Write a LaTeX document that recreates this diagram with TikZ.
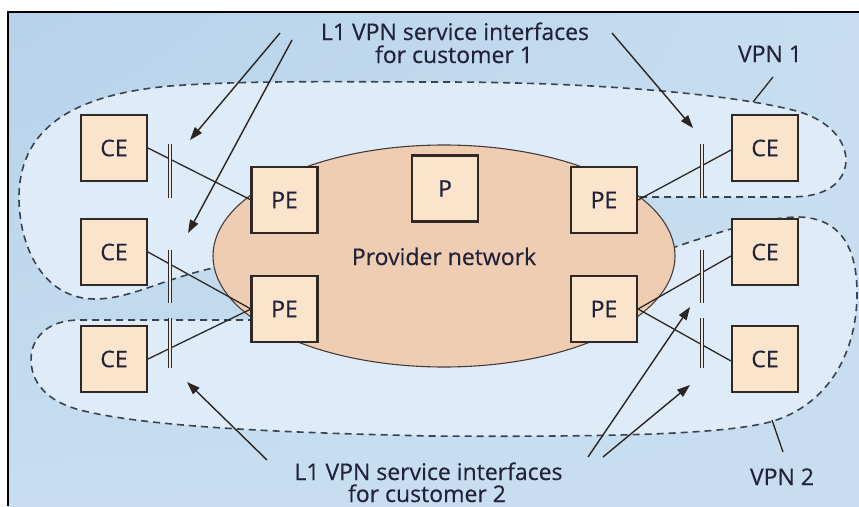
\documentclass[tikz,border=0pt]{standalone}
\usepackage{fontspec}
\setmainfont{Open Sans}[FakeBold=0.4]
\usetikzlibrary{arrows.meta,shadings}
\definecolor{bgblueA}{RGB}{182,210,234}
\definecolor{bgblueB}{RGB}{200,222,240}
\definecolor{vpnblue}{RGB}{221,236,248}
\definecolor{peach}{RGB}{238,205,179}
\definecolor{boxfill}{RGB}{250,229,204}
\definecolor{boxline}{RGB}{48,40,36}
\definecolor{txt}{RGB}{34,34,58}
\definecolor{dashc}{RGB}{58,66,80}
\definecolor{ellline}{RGB}{70,60,55}
\begin{document}
\begin{tikzpicture}[x=1pt,y=-1pt,
  dev/.style={draw=boxline, line width=2.2pt, fill=boxfill, minimum width=66pt, minimum height=66pt, inner sep=0pt, font=\fontsize{23}{27}\selectfont, text=txt},
  lbl/.style={font=\fontsize{23}{27}\selectfont, text=txt, inner sep=0pt, anchor=base},
  vpnline/.style={draw=dashc, line width=1.6pt, dash pattern=on 7pt off 5pt},
  link/.style={draw=boxline, line width=1.3pt},
  ifbar/.style={draw=boxline, line width=1pt, double=boxfill!40!vpnblue, double distance=2.5pt},
  callout/.style={draw=boxline!90!black, line width=1.4pt, -{Triangle[length=13pt,width=9pt]}},
  leader/.style={draw=boxline!90!black, line width=1.3pt}
]
\useasboundingbox (0,0) rectangle (859,506);
% background
\shade[upper left=bgblueA, upper right=bgblueB, lower left=bgblueB, lower right=bgblueB] (8,12) rectangle (859,506);
\draw[line width=1.3pt, black] (8,506) -- (8,12) -- (859,12);

% VPN 1 region
\path[fill=vpnblue] (213,268) .. controls (160,280) and (130,299) .. (95,299)
  .. controls (45,299) and (20,250) .. (19,200)
  .. controls (18,130) and (70,95) .. (170,86)
  .. controls (250,80) and (350,82) .. (440,82)
  .. controls (600,82) and (740,95) .. (800,112)
  .. controls (850,128) and (858,170) .. (830,188)
  .. controls (815,197) and (800,197) .. (780,197) -- (640,197) -- (430,235) -- cycle;
\draw[vpnline] (640,197) -- (780,197)
  .. controls (800,197) and (815,197) .. (830,188)
  .. controls (858,170) and (850,128) .. (800,112)
  .. controls (740,95) and (600,82) .. (440,82)
  .. controls (350,82) and (250,80) .. (170,86)
  .. controls (70,95) and (18,130) .. (19,200)
  .. controls (20,250) and (45,299) .. (95,299)
  .. controls (130,299) and (160,280) .. (213,268);

% VPN 2 region
\path[fill=vpnblue] (80,320) -- (255,320) -- (440,300) -- (675,247)
  .. controls (720,232) and (760,218) .. (797,217)
  .. controls (830,217) and (856,235) .. (857,290)
  .. controls (858,350) and (830,405) .. (770,422)
  .. controls (720,435) and (600,437) .. (430,436)
  .. controls (300,433) and (150,428) .. (80,410)
  .. controls (35,398) and (28,370) .. (32,350)
  .. controls (38,330) and (55,320) .. (80,320) -- cycle;
\draw[vpnline] (255,320) -- (80,320)
  .. controls (55,320) and (38,330) .. (32,350)
  .. controls (28,370) and (35,398) .. (80,410)
  .. controls (150,428) and (300,433) .. (430,436)
  .. controls (600,437) and (720,435) .. (770,422)
  .. controls (830,405) and (858,350) .. (857,290)
  .. controls (856,235) and (830,217) .. (797,217)
  .. controls (760,218) and (720,232) .. (675,247);

% provider network
\path[fill=peach, draw=ellline, line width=1.1pt] (444,256) ellipse [x radius=231, y radius=111];
\node[lbl] (prov) at (444,265) {Provider network};

% link end points and links (drawn before boxes)
\coordinate (ce1e) at (148,148); \coordinate (ce2e) at (148,252); \coordinate (ce3e) at (148,359);
\coordinate (pe1w) at (251,200); \coordinate (pe2w) at (251,309);
\coordinate (pe3e) at (638,200); \coordinate (pe4e) at (638,309);
\coordinate (ce4w) at (731,150); \coordinate (ce5w) at (731,256); \coordinate (ce6w) at (731,361);
\draw[link] (ce1e) -- (pe1w);
\draw[link] (ce2e) -- (pe2w);
\draw[link] (ce3e) -- (pe2w);
\draw[link] (pe3e) -- (ce4w);
\draw[link] (pe4e) -- (ce5w);
\draw[link] (pe4e) -- (ce6w);

% devices
\node[dev] (ce1) at (114,148) {CE};
\node[dev] (ce2) at (114,252) {CE};
\node[dev] (ce3) at (114,359) {CE};
\node[dev] (pe1) at (284.5,200) {PE};
\node[dev] (pe2) at (284.5,309) {PE};
\node[dev] (p)   at (445,188.5) {P};
\node[dev] (pe3) at (604,200) {PE};
\node[dev] (pe4) at (604,309) {PE};
\node[dev] (ce4) at (765,148) {CE};
\node[dev] (ce5) at (765,252) {CE};
\node[dev] (ce6) at (765,359) {CE};

% interface bars
\coordinate (ifa1) at (170,144); \coordinate (ifa2) at (170,198);
\coordinate (ifb1) at (170,250); \coordinate (ifb2) at (170,303);
\coordinate (ifc1) at (170,318); \coordinate (ifc2) at (170,368);
\coordinate (ifd1) at (702,144); \coordinate (ifd2) at (702,198);
\coordinate (ife1) at (702,250); \coordinate (ife2) at (702,303);
\coordinate (iff1) at (702,318); \coordinate (iff2) at (702,368);
\draw[ifbar] (ifa1) -- (ifa2);
\draw[ifbar] (ifb1) -- (ifb2);
\draw[ifbar] (ifc1) -- (ifc2);
\draw[ifbar] (ifd1) -- (ifd2);
\draw[ifbar] (ife1) -- (ife2);
\draw[ifbar] (iff1) -- (iff2);

% labels
\node[lbl] (top1) at (455,40) {L1 VPN service interfaces};
\node[lbl] (top2) at (454,63) {for customer 1};
\node[lbl] (bot1) at (428.5,480) {L1 VPN service interfaces};
\node[lbl] (bot2) at (427,502) {for customer 2};
\node[lbl] (v1) at (770,62) {VPN 1};
\node[lbl] (v2) at (782,485) {VPN 2};

% callout arrows
\coordinate (t1) at (280,33); \coordinate (t2) at (292,40); \coordinate (t3) at (612,33);
\coordinate (h1) at (190,140); \coordinate (h2) at (188,233); \coordinate (h3) at (693,128);
\draw[callout] (t1) -- (h1);
\draw[callout] (t2) -- (h2);
\draw[callout] (t3) -- (h3);
\coordinate (b1) at (267,460); \coordinate (b2) at (588,457); \coordinate (b3) at (603,457);
\coordinate (g1) at (187,382); \coordinate (g2) at (690,307); \coordinate (g3) at (690,385);
\draw[callout] (b1) -- (g1);
\draw[callout] (b2) -- (g2);
\draw[callout] (b3) -- (g3);

% VPN leaders
\coordinate (l1a) at (773,77); \coordinate (l1b) at (753,102);
\coordinate (l2a) at (783,452); \coordinate (l2b) at (772,420);
\draw[leader] (l1a) -- (l1b);
\draw[leader] (l2a) -- (l2b);
\end{tikzpicture}
\end{document}
